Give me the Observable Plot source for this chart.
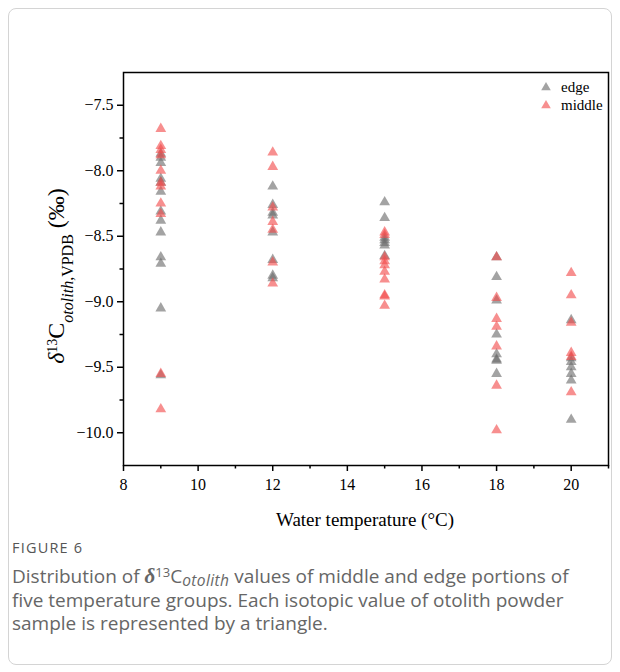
<!DOCTYPE html>
<html><head><meta charset="utf-8">
<script src="https://cdn.jsdelivr.net/npm/d3@7"></script>
<script src="https://cdn.jsdelivr.net/npm/@observablehq/plot@0.6"></script>
<style>
body{margin:0;background:#fff;width:620px;height:672px;position:relative;overflow:hidden}
#card{position:absolute;left:8px;top:8px;width:604px;height:657px;border:1px solid #d4d4d4;border-radius:8px;box-sizing:border-box}
#chart{position:absolute;left:0;top:0}
#chart svg, #chart svg text, #chart svg g{font-family:"Liberation Serif","Times New Roman",serif !important}
#legend{position:absolute;left:540px;top:78px;font-family:"Liberation Serif",serif;font-size:15px;line-height:18px;color:#000}
#legend div{display:flex;align-items:center;height:18px}
#legend svg{margin-right:9px}
#caption{position:absolute;left:12px;top:538px;font-family:"Open Sans",sans-serif;color:#666}
#caption .fig{font-size:14.5px;letter-spacing:1.2px;color:#555;margin-bottom:8px}
#caption .txt{font-size:19px;line-height:23.5px;white-space:nowrap}
#caption .d{font-family:"Liberation Serif",serif;font-style:italic;font-weight:bold;font-size:21px;line-height:0}
#caption sup{line-height:0;font-size:13px;vertical-align:0.45em}
#caption sub{line-height:0;font-size:15.5px;font-style:italic;vertical-align:-0.18em;letter-spacing:0.4px}
</style>
</head><body>
<div id="card"></div>
<div id="chart"></div>
<div id="legend"></div>
<div id="caption">
  <div class="fig">FIGURE 6</div>
  <div class="txt">Distribution of <span class="d">δ</span><sup>13</sup>C<sub>otolith</sub> values of middle and edge portions of<br>five temperature groups. Each isotopic value of otolith powder<br>sample is represented by a triangle.</div>
</div>
<script>
const series = ["edge", "middle"];
const seriesColors = ["#6a6a6a", "#f24a4a"];

const edge9  = [-7.87, -7.90, -7.94, -8.06, -8.09, -8.16, -8.31, -8.38, -8.47, -8.66, -8.71, -9.05, -9.56];
const edge12 = [-8.12, -8.26, -8.32, -8.34, -8.47, -8.68, -8.80, -8.82];
const edge15 = [-8.24, -8.36, -8.51, -8.53, -8.55, -8.57, -8.65];
const edge18 = [-8.66, -8.81, -8.99, -9.25, -9.40, -9.44, -9.45, -9.55];
const edge20 = [-9.14, -9.43, -9.46, -9.50, -9.55, -9.60, -9.90];

const middle9  = [-7.68, -7.81, -7.84, -7.88, -8.00, -8.09, -8.12, -8.25, -8.33, -9.55, -9.82];
const middle12 = [-7.86, -7.97, -8.28, -8.39, -8.45, -8.70, -8.86];
const middle15 = [-8.47, -8.49, -8.66, -8.69, -8.72, -8.77, -8.83, -8.95, -8.96, -9.03];
const middle18 = [-8.66, -8.97, -9.13, -9.19, -9.34, -9.64, -9.98];
const middle20 = [-8.78, -8.95, -9.16, -9.39, -9.42, -9.69];

const temperatures = [9, 12, 15, 18, 20];
const edgeGroups = [edge9, edge12, edge15, edge18, edge20];
const middleGroups = [middle9, middle12, middle15, middle18, middle20];

const xTicks = [8, 10, 12, 14, 16, 18, 20];
const xMinorTicks = [9, 11, 13, 15, 17, 19, 21];
const yTicks = [-10, -9.5, -9, -8.5, -8, -7.5];
const yMinorTicks = [-9.75, -9.25, -8.75, -8.25, -7.75];

const rows = [];
[["edge", edgeGroups], ["middle", middleGroups]].forEach(([s, groups]) => {
  groups.forEach((vals, i) => vals.forEach(v => rows.push({series: s, temp: temperatures[i], value: v})));
});

const font = "'Liberation Serif', 'Times New Roman', serif";
const svg = Plot.plot({
  width: 620,
  height: 540,
  marginLeft: 123,
  marginRight: 12,
  marginTop: 72,
  marginBottom: 75,
  style: {fontFamily: font, fontSize: "15px", color: "#000", background: "transparent"},
  x: {domain: [8, 21]},
  y: {domain: [-10.25, -7.25]},
  color: {domain: series, range: seriesColors},
  marks: [
    Plot.axisX(xTicks, {tickSize: 6, tickPadding: 7, strokeWidth: 1.5, label: null, fontSize: 16}),
    Plot.axisX(xMinorTicks, {tickSize: 3.5, strokeWidth: 1.5, tickFormat: () => "", label: null}),
    Plot.axisY(yTicks, {tickSize: 6, tickPadding: 4, strokeWidth: 1.5, tickFormat: d3.format(".1f"), label: null, fontSize: 16}),
    Plot.axisY(yMinorTicks, {tickSize: 3.5, strokeWidth: 1.5, tickFormat: () => "", label: null}),
    Plot.dot(rows, {x: "temp", y: "value", symbol: "triangle", r: 4, fill: "series", fillOpacity: 0.62, stroke: "none"}),
    Plot.frame({stroke: "#000", strokeWidth: 1.5})
  ]
});

const s = d3.select(svg);
s.append("text")
  .attr("x", 365).attr("y", 526)
  .attr("text-anchor", "middle")
  .attr("font-size", 19)
  .text("Water temperature (°C)");

const yl = s.append("text")
  .attr("transform", "translate(64,276) rotate(-90)")
  .attr("text-anchor", "middle")
  .attr("font-size", 24);
yl.append("tspan").attr("font-style", "italic").text("δ");
yl.append("tspan").attr("font-size", 14).attr("baseline-shift", "super").text("13");
yl.append("tspan").text("C");
yl.append("tspan").attr("font-size", 16).attr("font-style", "italic").attr("baseline-shift", "sub").text("otolith");
yl.append("tspan").attr("font-size", 16).attr("baseline-shift", "sub").text(",VPDB");
yl.append("tspan").text(" (‰)");

document.getElementById("chart").appendChild(svg);

const legend = d3.select("#legend");
series.forEach((name, i) => {
  const row = legend.append("div");
  const sw = row.append("svg").attr("width", 12).attr("height", 12);
  sw.append("path").attr("transform", "translate(6,6.5)")
    .attr("d", d3.symbol(d3.symbolTriangle, 40)())
    .attr("fill", seriesColors[i]).attr("fill-opacity", 0.62);
  row.append("span").text(name);
});
</script>
</body></html>
